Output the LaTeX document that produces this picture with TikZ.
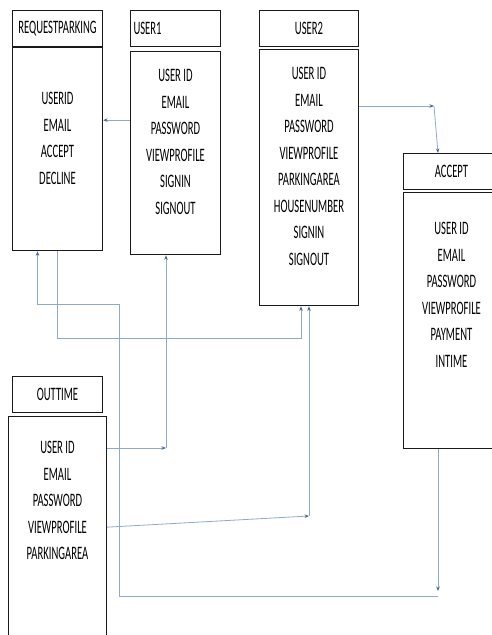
\documentclass[tikz,border=0pt]{standalone}
\usepackage{fontspec}
\usepackage{xcolor}
\usepackage{tikz}
\usetikzlibrary{arrows.meta, positioning, calc}
\newfontfamily\fieldfont[FakeStretch=0.56]{Carlito}
\definecolor{linkblue}{HTML}{8EA9D0}
\definecolor{tipblue}{HTML}{4A6591}
\definecolor{boxline}{HTML}{1A1A1A}
\tikzstyle{headbox} = [rectangle, draw=boxline, line width=1pt, minimum width=90pt, minimum height=36pt,
  inner sep=0pt, font=\fieldfont\fontsize{19}{26.5}\selectfont]
\tikzstyle{bodybox} = [rectangle, draw=boxline, line width=1.3pt, minimum width=90pt, inner sep=0pt]
\tikzstyle{fieldtext} = [align=center, inner sep=0pt, font=\fieldfont\fontsize{19}{26.5}\selectfont]
\tikzstyle{arrow} = [line width=0.8pt, draw=linkblue, -{Stealth[length=4.5pt, width=3.5pt, color=tipblue]}]

\begin{document}
\begin{tikzpicture}[x=1pt, y=1pt]
  \useasboundingbox (0,0) rectangle (491,-635);

  % tables
  \node (rphead) [headbox, anchor=north west] at (12,-10) {REQUESTPARKING};
  \node (rpbody) [bodybox, below=0pt of rphead, minimum height=203pt] {};
  \node (rptext) [fieldtext, below=45pt of rpbody.north] {USERID\\EMAIL\\ACCEPT\\DECLINE};

  \node (u1head) [headbox, right=27pt of rphead, align=left, text width=84pt] {USER1};
  \node (u1body) [bodybox, below=4pt of u1head, minimum height=203pt] {};
  \node (u1text) [fieldtext, below=18pt of u1body.north] {USER ID\\EMAIL\\PASSWORD\\VIEWPROFILE\\SIGNIN\\SIGNOUT};

  \node (u2head) [headbox, right=38pt of u1head, minimum width=99pt] {USER2};
  \node (u2body) [bodybox, below=2pt of u2head, minimum width=99pt, minimum height=256pt] {};
  \node (u2text) [fieldtext, below=18pt of u2body.north]
    {USER ID\\EMAIL\\PASSWORD\\VIEWPROFILE\\PARKINGAREA\\HOUSENUMBER\\SIGNIN\\SIGNOUT};

  \node (achead) [headbox, anchor=north west, minimum width=96pt] at (403,-153) {ACCEPT};
  \node (acbody) [bodybox, below=2pt of achead, minimum width=96pt, minimum height=256pt] {};
  \node (actext) [fieldtext, below=30pt of acbody.north] {USER ID\\EMAIL\\PASSWORD\\VIEWPROFILE\\PAYMENT\\INTIME};

  \node (othead) [headbox, anchor=north west] at (12,-376) {OUTTIME};
  \node (otbody) [bodybox, below=3pt of othead, minimum width=98pt, minimum height=221pt] {};
  \node (ottext) [fieldtext, below=25pt of otbody.north] {USER ID\\EMAIL\\PASSWORD\\VIEWPROFILE\\PARKINGAREA};

  % bend points
  \coordinate (jReq) at (438,-596);
  \coordinate (jLow) at (119,-596);
  \coordinate (jMid) at (119,-304);
  \coordinate (jU2) at (301,-338);
  \coordinate (jU1) at (166,-448);
  \coordinate (jOt) at (309,-516);
  \coordinate (jAc) at (434,-106);

  % links
  \draw[arrow] ([yshift=33pt]u1body.west) -- ([yshift=33pt]u1body.west -| rpbody.east);
  \draw[arrow] (u2body.east |- jAc) -- (jAc);
  \draw[arrow] (jAc) -- (438,0 |- achead.north);
  \draw[arrow] (acbody.south -| jReq) -- ([yshift=5pt]jReq);
  \draw[arrow] (jReq) -- (jLow) -- (jMid) -| ([xshift=-20pt]rpbody.south);
  \draw[arrow] (rpbody.south) |- (jU2) -- (jU2 |- u2body.south);
  \draw[arrow] (otbody.east |- jU1) -- (jU1);
  \draw[arrow] (jU1) -- (jU1 |- u1body.south);
  \draw[arrow] (otbody.east) -- (jOt);
  \draw[arrow] (jOt) -- (jOt |- u2body.south);
\end{tikzpicture}
\end{document}
